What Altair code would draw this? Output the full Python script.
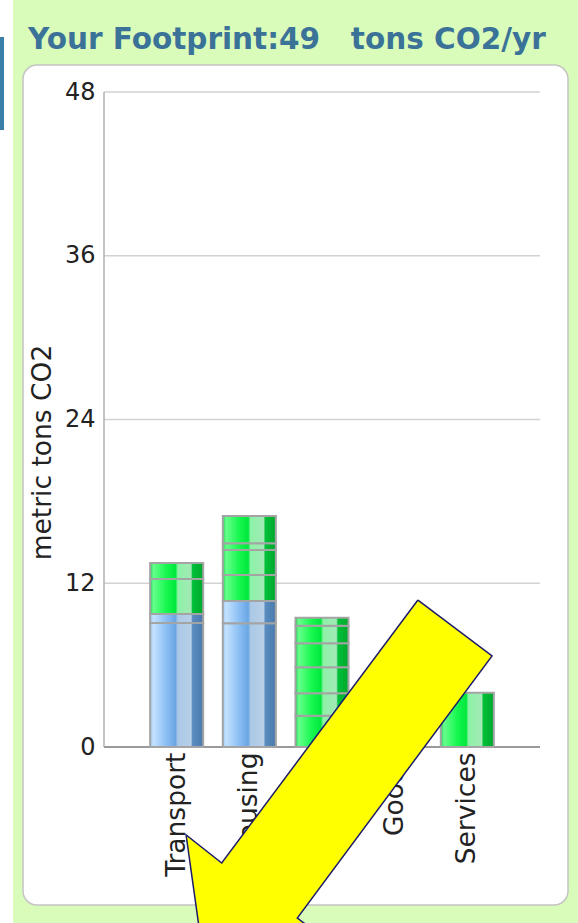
import altair as alt
import pandas as pd

# ---------------- data ----------------
categories = ["Transport", "Housing", "Food", "Goods", "Services"]

# stacked segments, bottom to top (metric tons CO2)
seg_category = ["Transport", "Transport", "Transport", "Transport",
                "Housing", "Housing", "Housing", "Housing", "Housing", "Housing",
                "Food", "Food", "Food", "Food", "Food", "Food",
                "Goods", "Goods",
                "Services"]
seg_kind = ["blue", "blue", "green", "green",
            "blue", "blue", "green", "green", "green", "green",
            "green", "green", "green", "green", "green", "green",
            "green", "green",
            "green"]
seg_value = [9.09, 0.66, 2.56, 1.17,
             9.06, 1.64, 1.90, 1.84, 0.49, 2.00,
             2.29, 1.64, 1.91, 1.76, 1.29, 0.59,
             2.60, 2.50,
             3.98]

y_ticks = [0, 12, 24, 36, 48]
y_title = "metric tons CO2"
chart_title = "Your Footprint:49\u00a0\u00a0\u00a0tons CO2/yr"

# annotation arrow outline, in (category position, tons) units
arrow_x = [4.32, 5.34, 2.66, 3.15, 1.38, 1.13, 1.62, 4.32]
arrow_y = [10.77, 6.67, -12.53, -14.51, -15.95, -6.45, -8.50, 10.77]

# ---------------- tables ----------------
seg = pd.DataFrame({"cat": seg_category, "kind": seg_kind, "v": seg_value})
seg["y"] = seg.groupby("cat")["v"].cumsum()
seg["y0"] = seg["y"] - seg["v"]
blue_df = seg[seg["kind"] == "blue"]
green_df = seg[seg["kind"] == "green"]
grid_df = pd.DataFrame({"y": y_ticks[1:]})
base_df = pd.DataFrame({"y": [0]})
yline_df = pd.DataFrame({"y": [max(y_ticks)], "y0": [0]})
arrow_df = pd.DataFrame({"ax": arrow_x, "y": arrow_y, "i": list(range(len(arrow_x)))})
one = pd.DataFrame({"a": [0]})

FONT = "DejaVu Sans"
ysc = alt.Scale(domain=[0, 48], range=[682, 27], nice=False, zero=False)
yax = alt.Axis(values=y_ticks, grid=False, domain=False, ticks=False, tickSize=0,
               labelPadding=9, offset=-81, labelFont=FONT, labelFontSize=24,
               labelColor="#222222", title=y_title, titleX=-62, titleY=387,
               titleAngle=270, titleAlign="center", titleBaseline="middle",
               titleFont=FONT, titleFontSize=26.5, titleFontWeight="normal",
               titleColor="#222222")
xsc = alt.Scale(domain=categories, range=[81, 517], paddingInner=0.27, paddingOuter=0.635)
xax = alt.Axis(orient="bottom", offset=-158, domain=False, ticks=False, tickSize=0,
               grid=False, labelAngle=270, labelPadding=5, labelFont=FONT,
               labelFontSize=26.5, labelColor="#222222", labelOverlap=False, title=None)


def Y():
    return alt.Y("y:Q", scale=ysc, axis=yax)


def grad(stops):
    return alt.Gradient(gradient="linear", x1=0, x2=1, y1=0, y2=0,
                        stops=[alt.GradientStop(color=c, offset=o) for o, c in stops])


blue_grad = grad([(0, "#9cc8f2"), (0.06, "#c4e2ff"), (0.3, "#8cc0f4"), (0.48, "#6aa6e4"),
                  (0.52, "#aac8e6"), (0.77, "#b8d0e8"), (0.8, "#5a8cc0"), (1, "#4a7aae")])
green_grad = grad([(0, "#20d050"), (0.06, "#66ff8c"), (0.3, "#18f850"), (0.48, "#00e83c"),
                   (0.52, "#8cf2a6"), (0.77, "#a2eab6"), (0.8, "#00c038"), (1, "#00a82c")])

grid = alt.Chart(grid_df).mark_rule(color="#d2d2d2", strokeWidth=1.5).encode(
    y=Y(), x=alt.value(81), x2=alt.value(517))
base = alt.Chart(base_df).mark_rule(color="#9a9a9a", strokeWidth=2).encode(
    y=Y(), x=alt.value(81), x2=alt.value(517))
yline = alt.Chart(yline_df).mark_rule(color="#b0b0b0", strokeWidth=1.5).encode(
    y=Y(), y2="y0:Q", x=alt.value(81))

blue = alt.Chart(blue_df).mark_bar(fill=blue_grad, stroke="#a4a4a4", strokeWidth=2).encode(
    x=alt.X("cat:N", scale=xsc, axis=xax, sort=categories), y=Y(), y2="y0:Q")
green = alt.Chart(green_df).mark_bar(fill=green_grad, stroke="#a4a4a4", strokeWidth=2).encode(
    x=alt.X("cat:N", scale=xsc, axis=xax, sort=categories), y=Y(), y2="y0:Q")
bars = alt.layer(blue, green)

left_strip = alt.Chart(one).mark_rect(color="white").encode(
    x=alt.value(-23), x2=alt.value(-10), y=alt.value(-65), y2=alt.value(858))
blue_tab = alt.Chart(one).mark_rect(color="#3a7fa8").encode(
    x=alt.value(-23), x2=alt.value(-19), y=alt.value(-28), y2=alt.value(65))

title = alt.Chart(pd.DataFrame({"t": [chart_title]})).mark_text(
    align="left", baseline="alphabetic", font=FONT, fontSize=29.5, fontWeight="bold",
    color="#3a7298").encode(text="t:N", x=alt.value(5), y=alt.value(-16))

arrow = alt.Chart(arrow_df).mark_line(fill="#ffff00", stroke="#1c1c6a", strokeWidth=1.5,
                                      strokeJoin="miter").encode(
    x=alt.X("ax:Q", scale=alt.Scale(domain=[0, 6], range=[81, 517], nice=False, zero=False),
            axis=None),
    y=Y(), order="i:Q")

chart = alt.layer(grid, base, yline, bars, left_strip, blue_tab, title, arrow).resolve_scale(
    x="independent"
).properties(
    width=545, height=840, background="#dafcbb",
    padding={"left": 23, "top": 65, "right": 10, "bottom": 18},
    autosize=alt.AutoSizeParams(type="none"),
).configure_view(fill="white", stroke="#c4c4c4", strokeWidth=1.5, cornerRadius=14)

chart.save("out.html", embed_options={"renderer": "svg", "actions": False})
